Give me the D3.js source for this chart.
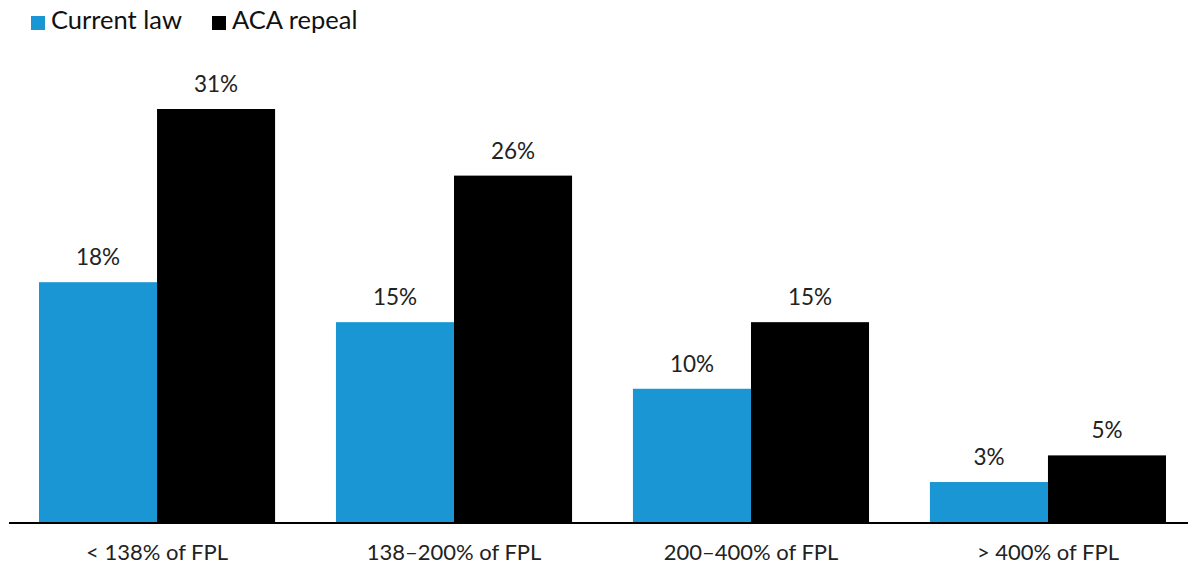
<!DOCTYPE html>
<html>
<head>
<meta charset="utf-8">
<script src="https://cdn.jsdelivr.net/npm/d3@7"></script>
<style>
  html, body { margin: 0; padding: 0; background: #fff; }
  svg { display: block; font-family: Lato, "Open Sans", sans-serif; }
</style>
</head>
<body>
<svg id="chart" width="1188" height="565"></svg>
<script>
// Uninsured rate by income group (% of federal poverty level)
const categories = ["< 138% of FPL", "138–200% of FPL", "200–400% of FPL", "> 400% of FPL"];
const seriesNames = ["Current law", "ACA repeal"];
const currentLaw = [18, 15, 10, 3];
const acaRepeal = [31, 26, 15, 5];
const colors = ["#1996d3", "#000000"];

const svg = d3.select("#chart");
const W = 1188, H = 565;
const baseY = 522;

const rows = categories.map((c, i) => ({ cat: c, values: [currentLaw[i], acaRepeal[i]] }));

const x0 = d3.scaleBand()
  .domain(categories)
  .range([9, 1196])
  .paddingInner(0.205)
  .paddingOuter(0.101);

const x1 = d3.scaleBand()
  .domain(seriesNames)
  .range([0, x0.bandwidth()])
  .padding(0);

const y = d3.scaleLinear()
  .domain([0, 31])
  .range([baseY, 109]);

const groups = svg.append("g").selectAll("g")
  .data(rows)
  .join("g")
  .attr("transform", d => `translate(${x0(d.cat)},0)`);

groups.selectAll("rect")
  .data(d => d.values.map((v, i) => ({ name: seriesNames[i], v, i })))
  .join("rect")
  .attr("x", d => x1(d.name))
  .attr("width", x1.bandwidth())
  .attr("y", d => y(d.v))
  .attr("height", d => baseY - y(d.v))
  .attr("fill", d => colors[d.i]);

groups.selectAll("text.val")
  .data(d => d.values.map((v, i) => ({ name: seriesNames[i], v, i })))
  .join("text")
  .attr("class", "val")
  .attr("x", d => x1(d.name) + x1.bandwidth() / 2)
  .attr("y", d => y(d.v) - 17)
  .attr("text-anchor", "middle")
  .attr("font-size", 22.5)
  .attr("fill", "#222")
  .text(d => d.v + "%");

// baseline axis with category labels
const axis = d3.axisBottom(x0).tickSize(0).tickPadding(0);
const ax = svg.append("g")
  .attr("transform", `translate(0,${baseY})`)
  .call(axis);
ax.select(".domain").remove();
ax.selectAll("text")
  .attr("y", 38)
  .attr("dy", null)
  .attr("font-size", 22)
  .attr("font-family", "Lato, 'Open Sans', sans-serif")
  .attr("fill", "#222");
svg.append("line")
  .attr("x1", 9).attr("x2", W)
  .attr("y1", baseY + 1).attr("y2", baseY + 1)
  .attr("stroke", "#000")
  .attr("stroke-width", 2);

// legend
const legendX = [31, 212];
const legend = svg.append("g").selectAll("g")
  .data(seriesNames)
  .join("g")
  .attr("transform", (d, i) => `translate(${legendX[i]},16)`);
legend.append("rect")
  .attr("width", 14).attr("height", 14)
  .attr("fill", (d, i) => colors[i]);
legend.append("text")
  .attr("x", 20).attr("y", 13)
  .attr("font-size", 25.5)
  .attr("fill", "#111")
  .text(d => d);
</script>
</body>
</html>
